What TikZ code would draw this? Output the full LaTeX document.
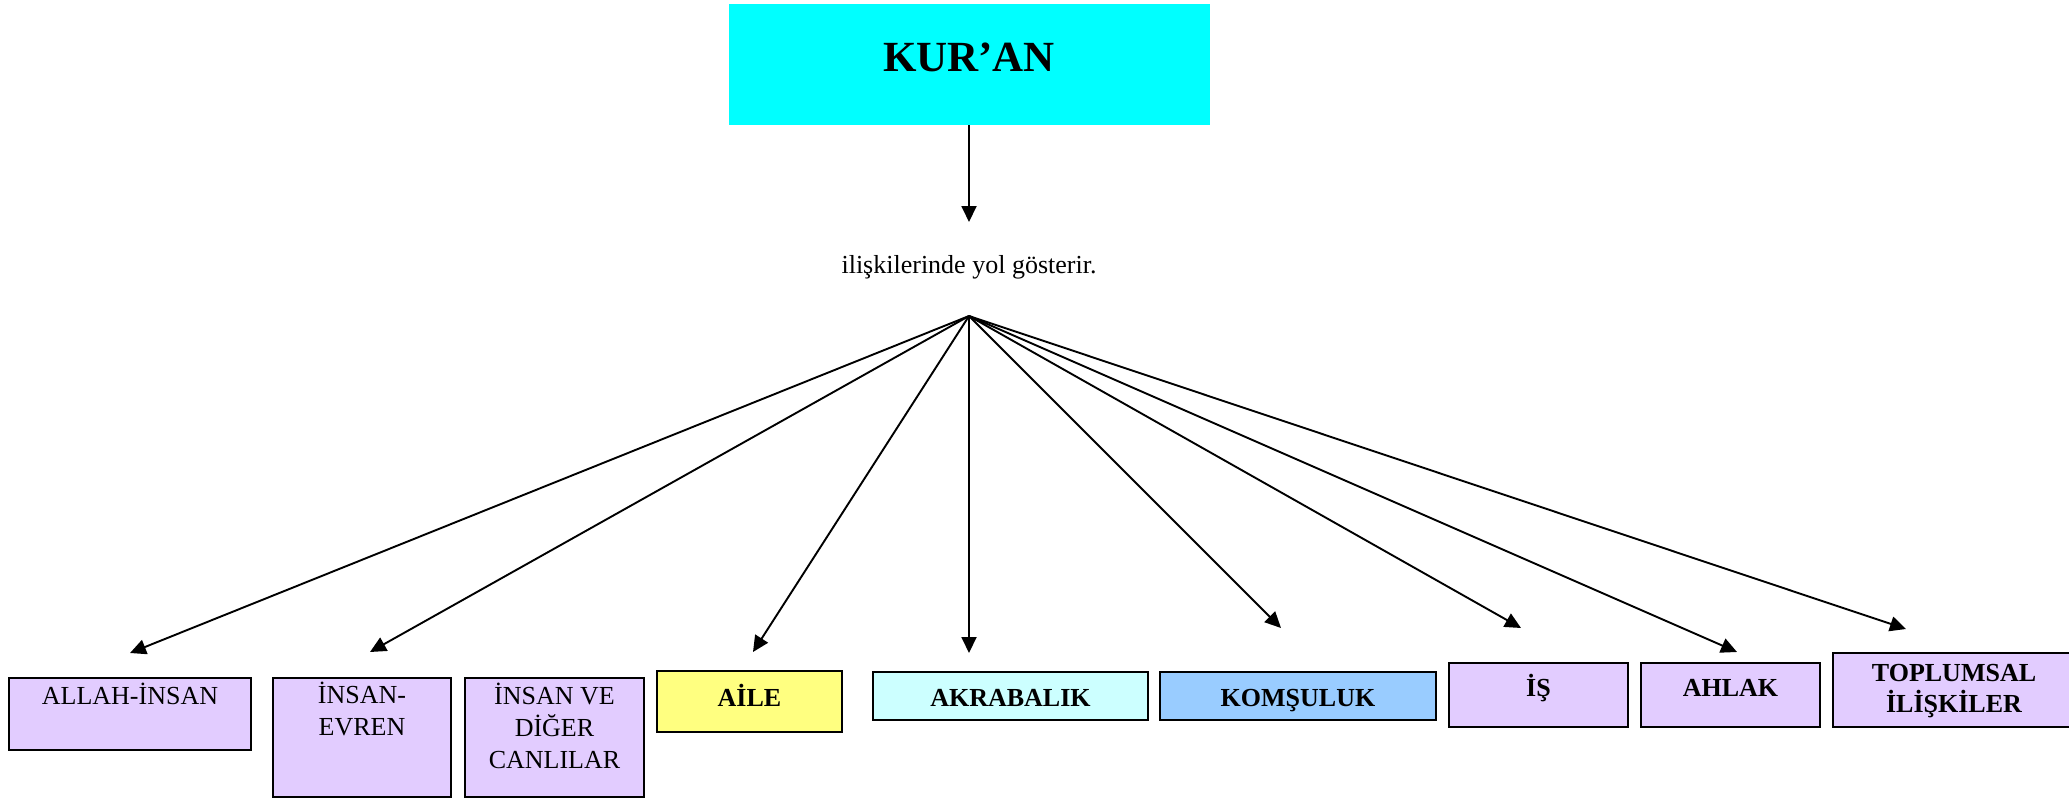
\documentclass[tikz,border=0pt]{standalone}
\usepackage{fontspec}
\setmainfont{Liberation Serif}
\usetikzlibrary{arrows.meta}
\definecolor{kurancol}{HTML}{00FFFF}
\definecolor{lav}{RGB}{226,204,255}
\definecolor{yel}{HTML}{FFFF80}
\definecolor{lcyan}{HTML}{CCFFFF}
\definecolor{lblue}{HTML}{99CCFF}
\tikzset{
  bx/.style={draw=black, line width=1.6pt, inner sep=0pt, rectangle},
  lbl/.style={font=\fontsize{26}{32}\selectfont, inner sep=0pt, align=center},
  blbl/.style={font=\fontsize{26}{31}\selectfont\bfseries, inner sep=0pt, align=center},
  conn/.style={line width=1.9pt, -{Triangle[length=16pt,width=15pt]}}
}
\begin{document}
\begin{tikzpicture}[x=1pt,y=-1pt]
\useasboundingbox (0,0) rectangle (2069,800);
% top box
\node[fill=kurancol, inner sep=0pt, minimum width=481pt, minimum height=121pt] (kuran) at (969,64.5) {};
\node[font=\fontsize{43}{50}\selectfont\bfseries, inner sep=0pt, anchor=base] (kurantxt) at (969,71) {KUR’AN};
\node[lbl, anchor=base] (mid) at (969,273) {ilişkilerinde yol gösterir.};
\coordinate (tk) at (969,222);
\coordinate (apex) at (969,316);
\draw[conn] (kuran.south) -- (tk);
% boxes
\node[bx, fill=lav, minimum width=242pt, minimum height=72pt] (allah) at (130,714) {};
\node[lbl, anchor=base] (allahtxt) at (130,704) {ALLAH-İNSAN};
\node[bx, fill=lav, minimum width=178pt, minimum height=119pt] (evren) at (362,737.5) {};
\node[lbl] (evrentxt) at (362,709) {İNSAN-\\EVREN};
\node[bx, fill=lav, minimum width=179pt, minimum height=119pt] (canli) at (554.5,737.5) {};
\node[lbl] (canlitxt) at (554.5,726) {İNSAN VE\\DİĞER\\CANLILAR};
\node[bx, fill=yel, minimum width=185pt, minimum height=61pt] (aile) at (749.5,701.5) {};
\node[blbl, anchor=base] (ailetxt) at (749.5,706) {AİLE};
\node[bx, fill=lcyan, minimum width=275pt, minimum height=48pt] (akra) at (1010.5,696) {};
\node[blbl, anchor=base] (akratxt) at (1010.5,706) {AKRABALIK};
\node[bx, fill=lblue, minimum width=276pt, minimum height=48pt] (koms) at (1298,696) {};
\node[blbl, anchor=base] (komstxt) at (1298,706) {KOMŞULUK};
\node[bx, fill=lav, minimum width=179pt, minimum height=64pt] (is) at (1538.5,695) {};
\node[blbl, anchor=base] (istxt) at (1538.5,696) {İŞ};
\node[bx, fill=lav, minimum width=179pt, minimum height=64pt] (ahlak) at (1730.5,695) {};
\node[blbl, anchor=base] (ahlaktxt) at (1730.5,696) {AHLAK};
\node[bx, fill=lav, minimum width=242pt, minimum height=74pt] (topl) at (1954,690) {};
\node[blbl] (topltxt) at (1954,691) {TOPLUMSAL\\İLİŞKİLER};
% arrow tips
\coordinate (t1) at (130,653);
\coordinate (t2) at (370,652);
\coordinate (t3) at (753,652);
\coordinate (t4) at (969,653);
\coordinate (t5) at (1281,628);
\coordinate (t6) at (1521,628);
\coordinate (t7) at (1737,652);
\coordinate (t8) at (1906,629);
\foreach \t in {t1,t2,t3,t4,t5,t6,t7,t8}
  \draw[conn] (apex) -- (\t);
\end{tikzpicture}
\end{document}
